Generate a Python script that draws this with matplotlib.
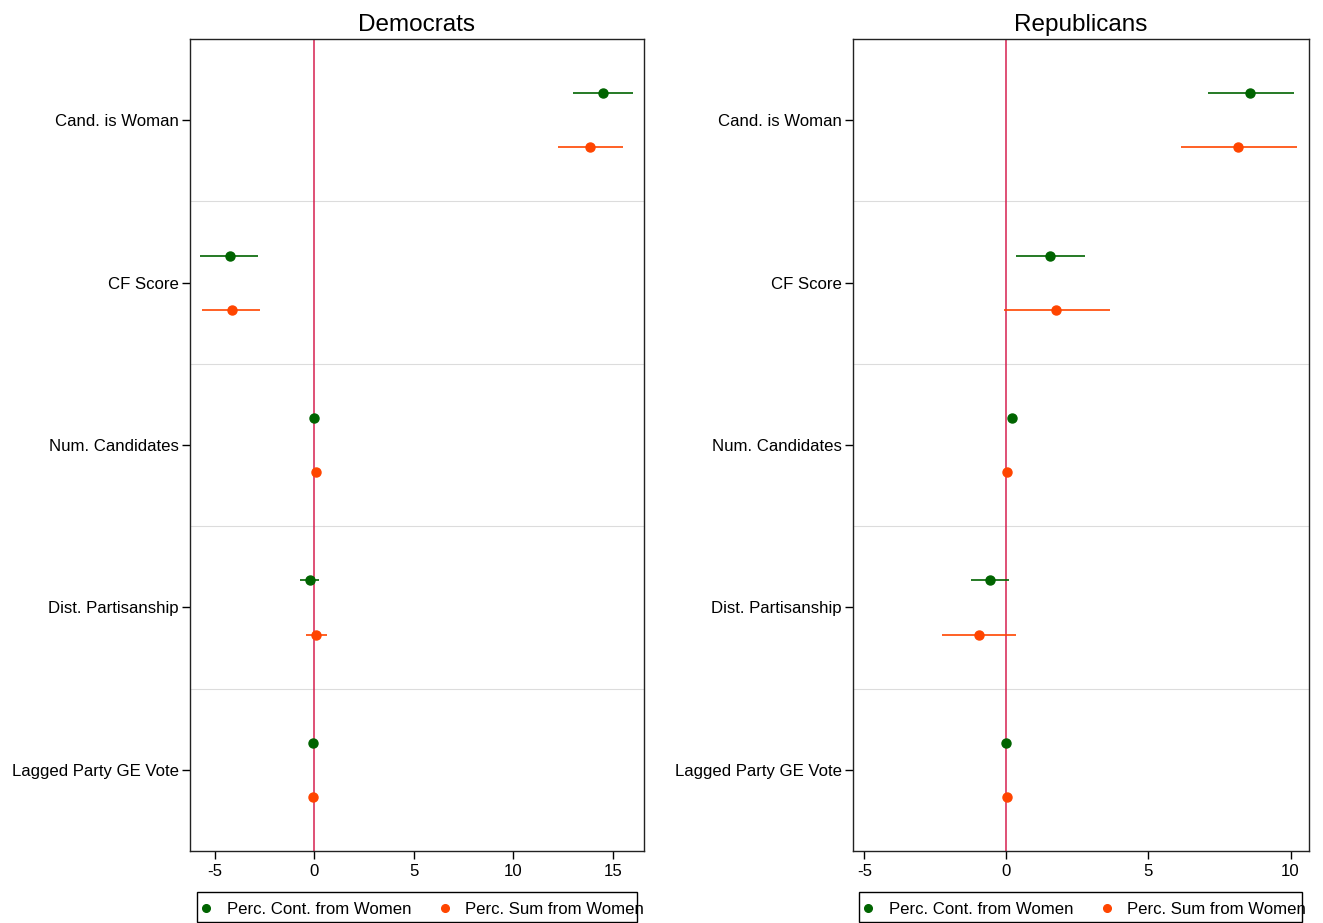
import numpy as np
import matplotlib.pyplot as plt
from matplotlib.lines import Line2D
from matplotlib.patches import Rectangle

plt.rcParams['font.family'] = ['Liberation Sans', 'DejaVu Sans']
plt.rcParams['axes.unicode_minus'] = False

variables = ["Cand. is Woman", "CF Score", "Num. Candidates",
             "Dist. Partisanship", "Lagged Party GE Vote"]

# Democrats: point estimates and confidence bounds
dem_cont = [14.5, -4.25, 0.0, -0.23, -0.08]
dem_cont_lo = [13.0, -5.75, -0.05, -0.73, -0.12]
dem_cont_hi = [16.0, -2.84, 0.05, 0.23, -0.04]
dem_sum = [13.84, -4.15, 0.07, 0.08, -0.08]
dem_sum_lo = [12.24, -5.65, 0.02, -0.43, -0.12]
dem_sum_hi = [15.5, -2.74, 0.12, 0.63, -0.04]

# Republicans
rep_cont = [8.57, 1.53, 0.19, -0.58, -0.02]
rep_cont_lo = [7.09, 0.33, 0.12, -1.25, -0.06]
rep_cont_hi = [10.12, 2.76, 0.26, 0.09, 0.02]
rep_sum = [8.15, 1.74, 0.02, -0.97, 0.02]
rep_sum_lo = [6.14, -0.09, -0.08, -2.27, -0.02]
rep_sum_hi = [10.23, 3.64, 0.12, 0.33, 0.06]

green = "#006400"
orange = "#FF4500"
zero_col = "#D6204F"
offset = 0.167
fs = 12.1

W, H = 1323, 923
fig = plt.figure(figsize=(W / 100, H / 100), dpi=100)
panels = [
    ("Democrats", [0.1436, 0.078, 0.343, 0.8797], (-6.26, 16.56), [-5, 0, 5, 10, 15],
     dem_cont, dem_cont_lo, dem_cont_hi, dem_sum, dem_sum_lo, dem_sum_hi, 197, 440),
    ("Republicans", [0.6447, 0.078, 0.3447, 0.8797], (-5.4, 10.65), [-5, 0, 5, 10],
     rep_cont, rep_cont_lo, rep_cont_hi, rep_sum, rep_sum_lo, rep_sum_hi, 859, 443),
]

for (title, rect, xlim, xticks, c, clo, chi, s, slo, shi, box_x, box_w) in panels:
    ax = fig.add_axes(rect)
    y = np.arange(len(variables))
    for b in np.arange(0.5, len(variables) - 0.5, 1):
        ax.axhline(b, color="#dcdcdc", lw=0.8, zorder=0)
    ax.axvline(0, color=zero_col, lw=1.1, zorder=1)
    ax.hlines(y - offset, clo, chi, color=green, lw=1.2, zorder=2)
    ax.plot(c, y - offset, "o", color=green, ms=6.5, zorder=3)
    ax.hlines(y + offset, slo, shi, color=orange, lw=1.2, zorder=2)
    ax.plot(s, y + offset, "o", color=orange, ms=6.5, zorder=3)

    ax.set_ylim(len(variables) - 0.5, -0.5)
    ax.set_xlim(*xlim)
    ax.set_yticks(y)
    ax.set_yticklabels(variables, fontsize=fs)
    ax.set_xticks(xticks)
    ax.tick_params(axis="x", labelsize=fs, length=6, width=1)
    ax.tick_params(axis="y", length=6, width=1, pad=2)
    for sp in ax.spines.values():
        sp.set_color("#222222")
        sp.set_linewidth(1)
    ax.set_title(title, fontsize=17.5, pad=6)

    # legend box below the panel; the entries run slightly past its right edge
    fig.patches.append(Rectangle((box_x / W, 1 / H), box_w / W, 30 / H,
                                 transform=fig.transFigure, fill=False,
                                 edgecolor="black", lw=1))
    handles = [
        Line2D([], [], marker="o", color=green, ls="none", ms=5.5),
        Line2D([], [], marker="o", color=orange, ls="none", ms=5.5),
    ]
    ax.legend(handles, ["Perc. Cont. from Women", "Perc. Sum from Women"],
              loc="center left", bbox_to_anchor=((box_x + 1) / W, 14 / H),
              bbox_transform=fig.transFigure, ncol=2, frameon=False,
              borderaxespad=0, borderpad=0, fontsize=fs, handletextpad=0.7,
              columnspacing=1.5, handlelength=1.0)

fig.savefig("out.png", dpi=100)
